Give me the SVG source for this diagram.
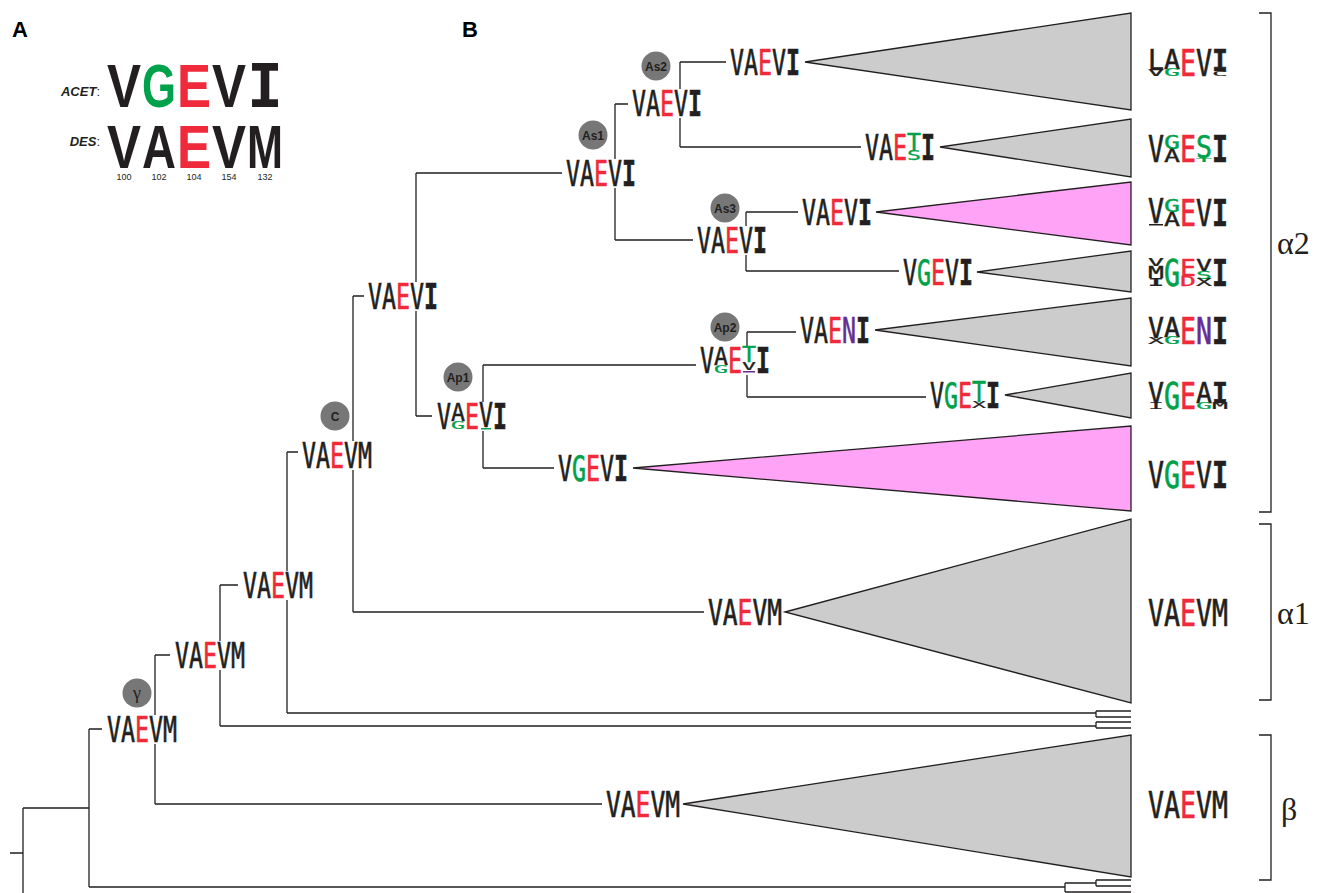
<svg xmlns="http://www.w3.org/2000/svg" width="1317" height="893" viewBox="0 0 1317 893">
<style>
.s{font-family:"DejaVu Sans Mono",monospace;font-size:36px;stroke-width:0.7}
.s2{font-family:"DejaVu Sans Mono",monospace;font-size:37px;stroke-width:0.7}
.k{fill:#231f20;stroke:#231f20}.r{fill:#ee2a3b;stroke:#ee2a3b}.g{fill:#00a14b;stroke:#00a14b}.p{fill:#662d91;stroke:#662d91}
rect.k,rect.g,rect.p{stroke:none}
.b{font-weight:bold}
.ln{fill:none;stroke:#231f20;stroke-width:1.3}
.tg{fill:#cccccc;stroke:#231f20;stroke-width:1.3;stroke-linejoin:miter}
.tp{fill:#ffa3f7;stroke:#231f20;stroke-width:1.3}
.c{fill:#777777}
.ct{font-family:"Liberation Sans",Arial,sans-serif;font-size:12px;font-weight:bold;fill:#231f20;text-anchor:middle}
.pl{font-family:"Liberation Sans",Arial,sans-serif;font-size:22px;font-weight:bold;fill:#000}
.gr{font-family:"Liberation Serif","Times New Roman",serif;font-size:32px;fill:#231f20}
.big{font-family:"Liberation Sans",Arial,sans-serif;font-size:61px;font-weight:bold;stroke:none}
.bigi{font-family:"DejaVu Sans Mono",monospace;font-size:61px;font-weight:bold;stroke:none}
.num{font-family:"Liberation Sans",Arial,sans-serif;font-size:9px;fill:#231f20;text-anchor:middle}
.sq{font-family:"Liberation Sans",Arial,sans-serif;font-size:13px;fill:#231f20;text-anchor:end}
</style>

<!-- Panel A -->
<g id="panelA">
<text class="pl" x="12" y="37">A</text>
<text class="sq" x="100" y="96"><tspan font-weight="bold" font-style="italic">ACET</tspan>:</text>
<text class="sq" x="100" y="146"><tspan font-weight="bold" font-style="italic">DES</tspan>:</text>
<text class="big k" x="107" y="107" textLength="34" lengthAdjust="spacingAndGlyphs">V</text>
<text class="big g" x="142" y="107" textLength="34" lengthAdjust="spacingAndGlyphs">G</text>
<text class="big r" x="177" y="107" textLength="34" lengthAdjust="spacingAndGlyphs">E</text>
<text class="big k" x="212" y="107" textLength="34" lengthAdjust="spacingAndGlyphs">V</text>
<text class="bigi k" x="247" y="107" textLength="36" lengthAdjust="spacingAndGlyphs">I</text>
<text class="big k" x="107" y="168" textLength="34" lengthAdjust="spacingAndGlyphs">V</text>
<text class="big k" x="142" y="168" textLength="34" lengthAdjust="spacingAndGlyphs">A</text>
<text class="big r" x="177" y="168" textLength="34" lengthAdjust="spacingAndGlyphs">E</text>
<text class="big k" x="212" y="168" textLength="34" lengthAdjust="spacingAndGlyphs">V</text>
<text class="big k" x="247" y="168" textLength="36" lengthAdjust="spacingAndGlyphs">M</text>
<text class="num" x="124" y="180">100</text>
<text class="num" x="159" y="180">102</text>
<text class="num" x="194" y="180">104</text>
<text class="num" x="229" y="180">154</text>
<text class="num" x="265" y="180">132</text>
</g>

<text class="pl" x="462" y="37">B</text>

<!-- Connectors -->
<g id="connectors">
<path class="ln" d="M10,853H23M23,808V893M23,808H89M89,729V887M89,729H102M89,887H1065M1065,883V892M1065,883H1096M1096,880V886M1096,880H1131M1096,886H1131M1065,892H1131"/>
<path class="ln" d="M155,655V715M155,744V804M155,655H170M155,804H602"/>
<path class="ln" d="M220,585V641M220,670V726M220,585H238M220,726H1096M1096,722V728M1096,722H1131M1096,728H1131"/>
<path class="ln" d="M287,452V571M287,600V713M287,452H298M287,713H1096M1096,711V717M1096,711H1131M1096,717H1131"/>
<path class="ln" d="M353,296V441M353,470V612M353,296H364M353,612H704"/>
<path class="ln" d="M416,173V282M416,311V416M416,173H562M416,416H432"/>
<path class="ln" d="M615,104V159M615,188V240M615,104H628M615,240H693"/>
<path class="ln" d="M680,62V89M680,118V147M680,62H726M680,147H861"/>
<path class="ln" d="M746,212V226M746,255V271M746,212H798M746,271H899"/>
<path class="ln" d="M483,365V402M483,431V468M483,365H696M483,468H554"/>
<path class="ln" d="M747,332V346M747,375V397M747,332H796M747,397H926"/>
<path class="ln" d="M1259,13H1271V512H1259M1259,524H1271V700H1259M1259,735H1271V880H1259"/>
</g>

<!-- Clade triangles -->
<g id="clades">
<polygon class="tg" points="805,62 1131,13 1131,110"/>
<polygon class="tg" points="940,147 1131,119 1131,177"/>
<polygon class="tp" points="876,212 1131,182 1131,245"/>
<polygon class="tg" points="977,272 1131,251 1131,292"/>
<polygon class="tg" points="875,330 1131,298 1131,366"/>
<polygon class="tg" points="1005,395 1131,373 1131,418"/>
<polygon class="tp" points="633,468 1131,426 1131,511"/>
<polygon class="tg" points="785,612 1131,519 1131,703"/>
<polygon class="tg" points="683,804 1131,735 1131,877"/>
</g>

<!-- Internal nodes -->
<g id="node-gamma">
<circle class="c" cx="137" cy="693" r="14.5"/>
<text x="137" y="699" font-family="Liberation Serif,serif" font-size="18" text-anchor="middle" fill="#231f20">γ</text>
<text class="s" x="107" y="742" textLength="70" lengthAdjust="spacingAndGlyphs"><tspan class="k">VA</tspan><tspan class="r">E</tspan><tspan class="k">VM</tspan></text>
</g>
<g id="node-n2">
<text class="s" x="175" y="668" textLength="70" lengthAdjust="spacingAndGlyphs"><tspan class="k">VA</tspan><tspan class="r">E</tspan><tspan class="k">VM</tspan></text>
</g>
<g id="node-n3">
<text class="s" x="243" y="598" textLength="70" lengthAdjust="spacingAndGlyphs"><tspan class="k">VA</tspan><tspan class="r">E</tspan><tspan class="k">VM</tspan></text>
</g>
<g id="node-C">
<circle class="c" cx="335" cy="416" r="14.5"/>
<text class="ct" x="335" y="420.5" font-size="13">C</text>
<text class="s" x="302" y="468" textLength="70" lengthAdjust="spacingAndGlyphs"><tspan class="k">VA</tspan><tspan class="r">E</tspan><tspan class="k">VM</tspan></text>
</g>
<g id="node-n5">
<text class="s" x="368" y="309" textLength="70" lengthAdjust="spacingAndGlyphs"><tspan class="k">VA</tspan><tspan class="r">E</tspan><tspan class="k">V</tspan><tspan class="k b">I</tspan></text>
</g>
<g id="node-As1">
<circle class="c" cx="593" cy="135" r="14.5"/>
<text class="ct" x="593" y="139.5">As1</text>
<text class="s" x="566" y="186" textLength="70" lengthAdjust="spacingAndGlyphs"><tspan class="k">VA</tspan><tspan class="r">E</tspan><tspan class="k">V</tspan><tspan class="k b">I</tspan></text>
</g>
<g id="node-As2">
<circle class="c" cx="656" cy="66" r="14.5"/>
<text class="ct" x="656" y="70.5">As2</text>
<text class="s" x="632" y="116" textLength="70" lengthAdjust="spacingAndGlyphs"><tspan class="k">VA</tspan><tspan class="r">E</tspan><tspan class="k">V</tspan><tspan class="k b">I</tspan></text>
</g>
<g id="node-As3">
<circle class="c" cx="725" cy="208" r="14.5"/>
<text class="ct" x="725" y="212.5">As3</text>
<text class="s" x="697" y="253" textLength="70" lengthAdjust="spacingAndGlyphs"><tspan class="k">VA</tspan><tspan class="r">E</tspan><tspan class="k">V</tspan><tspan class="k b">I</tspan></text>
</g>
<g id="node-Ap1">
<circle class="c" cx="458" cy="377" r="14.5"/>
<text class="ct" x="458" y="381.5">Ap1</text>
<text class="s k" x="437" y="429" textLength="14" lengthAdjust="spacingAndGlyphs">V</text>
<text class="s k" transform="translate(451,421) scale(1,0.69)" textLength="14" lengthAdjust="spacingAndGlyphs">A</text>
<text class="s g" transform="translate(451,429) scale(1,0.3)" textLength="14" lengthAdjust="spacingAndGlyphs">G</text>
<text class="s r" x="465" y="429" textLength="14" lengthAdjust="spacingAndGlyphs">E</text>
<text class="s k" transform="translate(479,427) scale(1,0.92)" textLength="14" lengthAdjust="spacingAndGlyphs">V</text>
<rect x="481" y="428" width="10" height="1.5" class="g"/>
<text class="s k b" x="493" y="429" textLength="14" lengthAdjust="spacingAndGlyphs">I</text>
</g>
<g id="node-Ap2">
<circle class="c" cx="725" cy="327" r="14.5"/>
<text class="ct" x="725" y="331.5">Ap2</text>
<text class="s k" x="700" y="373" textLength="14" lengthAdjust="spacingAndGlyphs">V</text>
<text class="s k" transform="translate(714,365) scale(1,0.69)" textLength="14" lengthAdjust="spacingAndGlyphs">A</text>
<text class="s g" transform="translate(714,373) scale(1,0.3)" textLength="14" lengthAdjust="spacingAndGlyphs">G</text>
<text class="s r" x="728" y="373" textLength="14" lengthAdjust="spacingAndGlyphs">E</text>
<text class="s g" transform="translate(742,362) scale(1,0.58)" textLength="14" lengthAdjust="spacingAndGlyphs">T</text>
<text class="s k" transform="translate(742,370) scale(1,0.3)" textLength="14" lengthAdjust="spacingAndGlyphs">V</text>
<rect x="743" y="371" width="12" height="1.5" class="p"/>
<text class="s k b" x="756" y="373" textLength="14" lengthAdjust="spacingAndGlyphs">I</text>
</g>

<!-- Leaf labels -->
<g id="leaf-1">
<text class="s" x="730" y="75" textLength="70" lengthAdjust="spacingAndGlyphs"><tspan class="k">VA</tspan><tspan class="r">E</tspan><tspan class="k">V</tspan><tspan class="k b">I</tspan></text>
</g>
<g id="leaf-2">
<text class="s k" x="865" y="160" textLength="14" lengthAdjust="spacingAndGlyphs">V</text>
<text class="s k" x="879" y="160" textLength="14" lengthAdjust="spacingAndGlyphs">A</text>
<text class="s r" x="893" y="160" textLength="14" lengthAdjust="spacingAndGlyphs">E</text>
<text class="s g" transform="translate(907,150) scale(1,0.62)" textLength="14" lengthAdjust="spacingAndGlyphs">T</text>
<text class="s g" transform="translate(907,160) scale(1,0.38)" textLength="14" lengthAdjust="spacingAndGlyphs">S</text>
<text class="s k b" x="921" y="160" textLength="14" lengthAdjust="spacingAndGlyphs">I</text>
</g>
<g id="leaf-3">
<text class="s" x="802" y="225" textLength="70" lengthAdjust="spacingAndGlyphs"><tspan class="k">VA</tspan><tspan class="r">E</tspan><tspan class="k">V</tspan><tspan class="k b">I</tspan></text>
</g>
<g id="leaf-4">
<text class="s" x="903" y="285" textLength="70" lengthAdjust="spacingAndGlyphs"><tspan class="k">V</tspan><tspan class="g">G</tspan><tspan class="r">E</tspan><tspan class="k">V</tspan><tspan class="k b">I</tspan></text>
</g>
<g id="leaf-5">
<text class="s" x="800" y="343" textLength="70" lengthAdjust="spacingAndGlyphs"><tspan class="k">VA</tspan><tspan class="r">E</tspan><tspan class="p">N</tspan><tspan class="k b">I</tspan></text>
</g>
<g id="leaf-6">
<text class="s k" x="930" y="408" textLength="14" lengthAdjust="spacingAndGlyphs">V</text>
<text class="s g" x="944" y="408" textLength="14" lengthAdjust="spacingAndGlyphs">G</text>
<text class="s r" x="958" y="408" textLength="14" lengthAdjust="spacingAndGlyphs">E</text>
<text class="s g" transform="translate(972,402) scale(1,0.77)" textLength="14" lengthAdjust="spacingAndGlyphs">T</text>
<text class="s k" transform="translate(972,408) scale(1,0.23)" textLength="14" lengthAdjust="spacingAndGlyphs">X</text>
<text class="s k b" x="986" y="408" textLength="14" lengthAdjust="spacingAndGlyphs">I</text>
</g>
<g id="leaf-7">
<text class="s" x="558" y="481" textLength="70" lengthAdjust="spacingAndGlyphs"><tspan class="k">V</tspan><tspan class="g">G</tspan><tspan class="r">E</tspan><tspan class="k">V</tspan><tspan class="k b">I</tspan></text>
</g>
<g id="leaf-alpha1">
<text class="s" x="708" y="625" textLength="74" lengthAdjust="spacingAndGlyphs"><tspan class="k">VA</tspan><tspan class="r">E</tspan><tspan class="k">VM</tspan></text>
</g>
<g id="leaf-beta">
<text class="s" x="606" y="817" textLength="74" lengthAdjust="spacingAndGlyphs"><tspan class="k">VA</tspan><tspan class="r">E</tspan><tspan class="k">VM</tspan></text>
</g>

<!-- Right logos -->
<g id="logo-1">
<text class="s2 k" transform="translate(1148,70) scale(1,0.78)" textLength="16" lengthAdjust="spacingAndGlyphs">L</text>
<text class="s2 k" transform="translate(1148,76) scale(1,0.22)" textLength="16" lengthAdjust="spacingAndGlyphs">V</text>
<text class="s2 k" transform="translate(1164,69) scale(1,0.74)" textLength="16" lengthAdjust="spacingAndGlyphs">A</text>
<text class="s2 g" transform="translate(1164,76) scale(1,0.26)" textLength="16" lengthAdjust="spacingAndGlyphs">G</text>
<text class="s2 r" x="1180" y="76" textLength="16" lengthAdjust="spacingAndGlyphs">E</text>
<text class="s2 k" x="1196" y="76" textLength="16" lengthAdjust="spacingAndGlyphs">V</text>
<text class="s2 k b" transform="translate(1212,71) scale(1,0.81)" textLength="16" lengthAdjust="spacingAndGlyphs">I</text>
<text class="s2 k" transform="translate(1212,76) scale(1,0.19)" textLength="16" lengthAdjust="spacingAndGlyphs">C</text>
</g>
<g id="logo-2">
<text class="s2 k" x="1148" y="162" textLength="16" lengthAdjust="spacingAndGlyphs">V</text>
<text class="s2 g" transform="translate(1164,149) scale(1,0.52)" textLength="16" lengthAdjust="spacingAndGlyphs">G</text>
<text class="s2 k" transform="translate(1164,162) scale(1,0.48)" textLength="16" lengthAdjust="spacingAndGlyphs">A</text>
<text class="s2 r" x="1180" y="162" textLength="16" lengthAdjust="spacingAndGlyphs">E</text>
<text class="s2 g" transform="translate(1196,158) scale(1,0.85)" textLength="16" lengthAdjust="spacingAndGlyphs">S</text>
<text class="s2 g" transform="translate(1196,162) scale(1,0.15)" textLength="16" lengthAdjust="spacingAndGlyphs">T</text>
<text class="s2 k b" x="1212" y="162" textLength="16" lengthAdjust="spacingAndGlyphs">I</text>
</g>
<g id="logo-3">
<text class="s2 k" transform="translate(1148,223) scale(1,0.89)" textLength="16" lengthAdjust="spacingAndGlyphs">V</text>
<rect x="1149" y="224" width="14" height="1.5" class="k"/>
<text class="s2 g" transform="translate(1164,212) scale(1,0.48)" textLength="16" lengthAdjust="spacingAndGlyphs">G</text>
<text class="s2 k" transform="translate(1164,226) scale(1,0.52)" textLength="16" lengthAdjust="spacingAndGlyphs">A</text>
<text class="s2 r" x="1180" y="226" textLength="16" lengthAdjust="spacingAndGlyphs">E</text>
<text class="s2 k" x="1196" y="226" textLength="16" lengthAdjust="spacingAndGlyphs">V</text>
<text class="s2 k b" x="1212" y="226" textLength="16" lengthAdjust="spacingAndGlyphs">I</text>
</g>
<g id="logo-4">
<text class="s2 k" transform="translate(1148,266) scale(1,0.26)" textLength="16" lengthAdjust="spacingAndGlyphs">V</text>
<text class="s2 k" transform="translate(1148,278) scale(1,0.44)" textLength="16" lengthAdjust="spacingAndGlyphs">M</text>
<text class="s2 k b" transform="translate(1148,286) scale(1,0.3)" textLength="16" lengthAdjust="spacingAndGlyphs">I</text>
<text class="s2 g" x="1164" y="286" textLength="16" lengthAdjust="spacingAndGlyphs">G</text>
<text class="s2 r" transform="translate(1180,276) scale(1,0.63)" textLength="16" lengthAdjust="spacingAndGlyphs">E</text>
<text class="s2 r" transform="translate(1180,286) scale(1,0.37)" textLength="16" lengthAdjust="spacingAndGlyphs">D</text>
<text class="s2 k" transform="translate(1196,271) scale(1,0.44)" textLength="16" lengthAdjust="spacingAndGlyphs">V</text>
<text class="s2 g" transform="translate(1196,279) scale(1,0.3)" textLength="16" lengthAdjust="spacingAndGlyphs">S</text>
<text class="s2 k" transform="translate(1196,286) scale(1,0.26)" textLength="16" lengthAdjust="spacingAndGlyphs">X</text>
<text class="s2 k b" x="1212" y="286" textLength="16" lengthAdjust="spacingAndGlyphs">I</text>
</g>
<g id="logo-5">
<text class="s2 k" transform="translate(1148,338) scale(1,0.78)" textLength="16" lengthAdjust="spacingAndGlyphs">V</text>
<text class="s2 k" transform="translate(1148,344) scale(1,0.22)" textLength="16" lengthAdjust="spacingAndGlyphs">X</text>
<text class="s2 k" transform="translate(1164,337) scale(1,0.74)" textLength="16" lengthAdjust="spacingAndGlyphs">A</text>
<text class="s2 g" transform="translate(1164,344) scale(1,0.26)" textLength="16" lengthAdjust="spacingAndGlyphs">G</text>
<text class="s2 r" x="1180" y="344" textLength="16" lengthAdjust="spacingAndGlyphs">E</text>
<text class="s2 p" x="1196" y="344" textLength="16" lengthAdjust="spacingAndGlyphs">N</text>
<text class="s2 k b" x="1212" y="344" textLength="16" lengthAdjust="spacingAndGlyphs">I</text>
</g>
<g id="logo-6">
<text class="s2 k" transform="translate(1148,403) scale(1,0.78)" textLength="16" lengthAdjust="spacingAndGlyphs">V</text>
<text class="s2 k" transform="translate(1148,409) scale(1,0.22)" textLength="16" lengthAdjust="spacingAndGlyphs">I</text>
<text class="s2 g" x="1164" y="409" textLength="16" lengthAdjust="spacingAndGlyphs">G</text>
<text class="s2 r" x="1180" y="409" textLength="16" lengthAdjust="spacingAndGlyphs">E</text>
<text class="s2 k" transform="translate(1196,403) scale(1,0.78)" textLength="16" lengthAdjust="spacingAndGlyphs">A</text>
<text class="s2 g" transform="translate(1196,409) scale(1,0.22)" textLength="16" lengthAdjust="spacingAndGlyphs">G</text>
<text class="s2 k b" transform="translate(1212,403) scale(1,0.78)" textLength="16" lengthAdjust="spacingAndGlyphs">I</text>
<text class="s2 k" transform="translate(1212,409) scale(1,0.22)" textLength="16" lengthAdjust="spacingAndGlyphs">M</text>
</g>
<g id="logo-7">
<text class="s2" x="1148" y="488" textLength="80" lengthAdjust="spacingAndGlyphs"><tspan class="k">V</tspan><tspan class="g">G</tspan><tspan class="r">E</tspan><tspan class="k">V</tspan><tspan class="k b">I</tspan></text>
</g>
<g id="logo-8">
<text class="s2" x="1148" y="626" textLength="80" lengthAdjust="spacingAndGlyphs"><tspan class="k">VA</tspan><tspan class="r">E</tspan><tspan class="k">VM</tspan></text>
</g>
<g id="logo-9">
<text class="s2" x="1148" y="818" textLength="80" lengthAdjust="spacingAndGlyphs"><tspan class="k">VA</tspan><tspan class="r">E</tspan><tspan class="k">VM</tspan></text>
</g>

<!-- Group labels -->
<g id="groups">
<text class="gr" x="1277" y="254">α2</text>
<text class="gr" x="1277" y="624">α1</text>
<text class="gr" x="1281" y="820">β</text>
</g>
</svg>
